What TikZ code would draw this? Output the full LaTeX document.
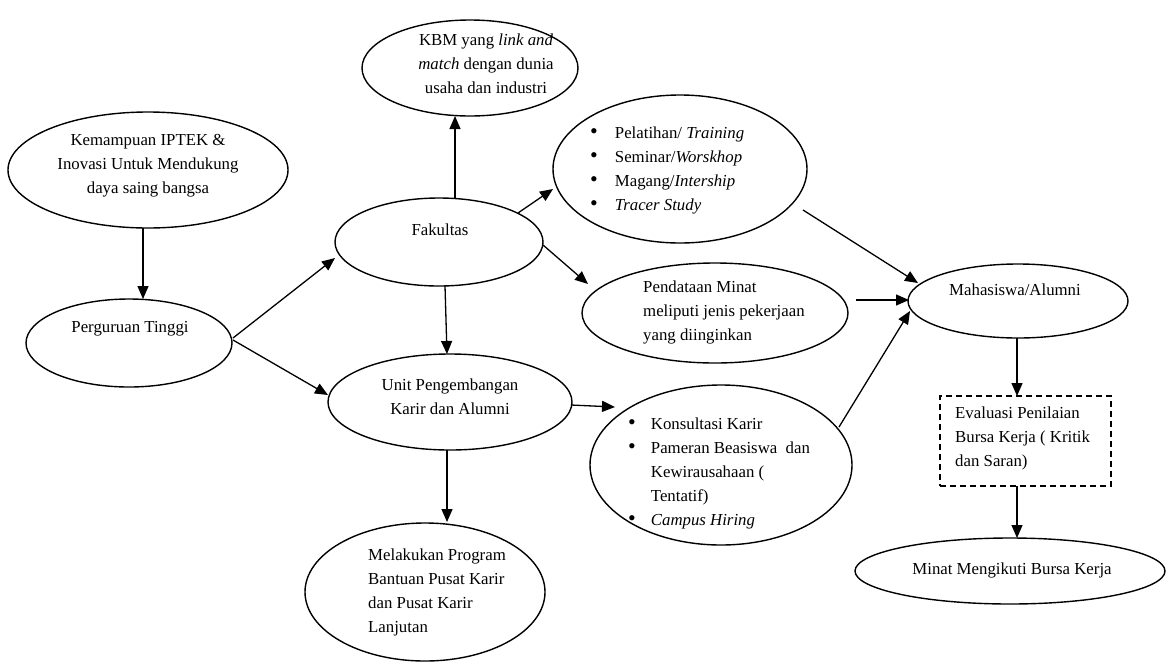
\documentclass[tikz,border=0pt]{standalone}
\usepackage{fontspec}
\setmainfont{Liberation Serif}
\usetikzlibrary{shapes.geometric,arrows.meta,calc}
\newcommand{\bigbul}{{\fontsize{22}{24}\selectfont\textbullet}}
\begin{document}
\begin{tikzpicture}[x=1pt,y=-1pt,
  el/.style={draw, line width=1.4pt, ellipse, inner sep=0pt},
  txt/.style={inner sep=0pt, font=\fontsize{16.8}{24}\selectfont},
  arr/.style={line width=1.3pt, -{Triangle[length=13pt,width=11pt]}},
  dbox/.style={draw, line width=1.3pt, dash pattern=on 6pt off 4pt, inner sep=0pt}]
\useasboundingbox (0,0) rectangle (1169,662);
% shapes
\node[el, minimum width=280pt, minimum height=116pt] (kem) at (148,170) {};
\node[el, minimum width=206pt, minimum height=88pt] (pt) at (129,343) {};
\node[el, minimum width=216pt, minimum height=96pt] (kbm) at (470,68) {};
\node[el, minimum width=208pt, minimum height=88pt] (fak) at (439,242) {};
\node[el, minimum width=254pt, minimum height=148pt] (tr) at (680,169) {};
\node[el, minimum width=266pt, minimum height=100pt] (pend) at (715,313) {};
\node[el, minimum width=244pt, minimum height=96pt] (unit) at (450,402) {};
\node[el, minimum width=262pt, minimum height=160pt] (kons) at (721,465) {};
\node[el, minimum width=240pt, minimum height=138pt] (mel) at (425,592) {};
\node[el, minimum width=220pt, minimum height=74pt] (mah) at (1018,301) {};
\node[dbox, minimum width=171pt, minimum height=90pt] (eval) at (1025.5,441) {};
\node[el, minimum width=310pt, minimum height=66pt] (minat) at (1010,571) {};
% texts
\node[txt, align=center] (kemT) at (148,166) {Kemampuan IPTEK \&\\Inovasi Untuk Mendukung\\daya saing bangsa};
\node[txt] (ptT) at (130,329) {Perguruan Tinggi};
\node[txt, align=center] (kbmT) at (486,64) {KBM yang \textit{link and}\\\textit{match} dengan dunia\\usaha dan industri};
\node[txt] (fakT) at (440,230) {Fakultas};
\node[txt, anchor=west] (trT) at (590,170) {\begin{tabular}{@{}l@{\hspace{17pt}}l@{}}
\bigbul & Pelatihan/ \textit{Training}\\
\bigbul & Seminar/\textit{Worskhop}\\
\bigbul & Magang/\textit{Intership}\\
\bigbul & \textit{Tracer Study}
\end{tabular}};
\node[txt, anchor=west, align=left] (pendT) at (643,312) {Pendataan Minat\\meliputi jenis pekerjaan\\yang diinginkan};
\node[txt, align=center] (unitT) at (450,397) {Unit Pengembangan\\Karir dan Alumni};
\node[txt, anchor=west] (konsT) at (628,473) {\begin{tabular}{@{}l@{\hspace{15pt}}l@{}}
\bigbul & Konsultasi Karir\\
\bigbul & Pameran Beasiswa\ \ dan\\
 & Kewirausahaan (\\
 & Tentatif)\\
\bigbul & \textit{Campus Hiring}
\end{tabular}};
\node[txt, anchor=west, align=left] (melT) at (368,592) {Melakukan Program\\Bantuan Pusat Karir\\dan Pusat Karir\\Lanjutan};
\node[txt] (mahT) at (1015,290) {Mahasiswa/Alumni};
\node[txt, anchor=west, align=left] (evalT) at (955,438) {Evaluasi Penilaian\\Bursa Kerja ( Kritik\\dan Saran)};
\node[txt] (minatT) at (1012,570) {Minat Mengikuti Bursa Kerja};
% connectors
\draw[arr] ($(kem)+(-5,58)$) -- ($(pt)+(14,-44)$);
\draw[arr] ($(pt)+(104,-5)$) -- ($(fak)+(-104,16)$);
\draw[arr] ($(pt)+(104,-3)$) -- ($(unit)+(-122,-7)$);
\draw[arr] ($(fak)+(16,-44)$) -- ($(kbm)+(-15,48)$);
\draw[arr] ($(fak)+(79,-29)$) -- ($(tr)+(-127,20)$);
\draw[arr] ($(fak)+(104,3)$) -- ($(pend)+(-127,-29)$);
\draw[arr] ($(fak)+(6,44)$) -- ($(unit)+(-3,-48)$);
\draw[arr] ($(unit)+(121,3)$) -- ($(kons)+(-106,-58)$);
\draw[arr] ($(unit)+(-3,48)$) -- ($(mel)+(22,-70)$);
\draw[arr] ($(tr)+(123,41)$) -- ($(mah)+(-100,-18)$);
\draw[arr] ($(pend)+(141,-13)$) -- ($(mah)+(-109,-1)$);
\draw[arr] ($(kons)+(118,-38)$) -- ($(mah)+(-108,10)$);
\draw[arr] ($(mah)+(-1,37)$) -- ($(eval)+(-8.5,-45)$);
\draw[arr] ($(eval)+(-8.5,45)$) -- ($(minat)+(7,-33)$);
\end{tikzpicture}
\end{document}
